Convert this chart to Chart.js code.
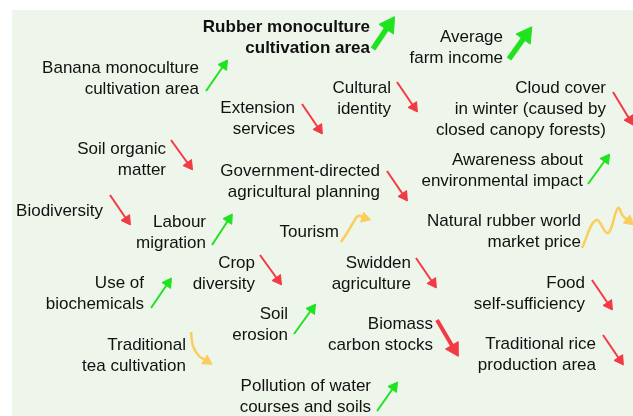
<!DOCTYPE html>
<html>
<head>
<meta charset="utf-8">
<script src="https://cdn.jsdelivr.net/npm/chart.js@4.4.1/dist/chart.umd.min.js"></script>
<style>
  html, body { margin: 0; padding: 0; background: #fff; }
  #wrap { width: 633px; height: 416px; }
</style>
</head>
<body>
<div id="wrap"><canvas id="diagram" width="633" height="416"></canvas></div>
<script>
// concepts of the diagram and how each one changed
var concepts = [
  'Rubber monoculture\ncultivation area',
  'Average\nfarm income',
  'Banana monoculture\ncultivation area',
  'Extension\nservices',
  'Cultural\nidentity',
  'Cloud cover\nin winter (caused by\nclosed canopy forests)',
  'Soil organic\nmatter',
  'Government-directed\nagricultural planning',
  'Biodiversity',
  'Labour\nmigration',
  'Tourism',
  'Awareness about\nenvironmental impact',
  'Natural rubber world\nmarket price',
  'Crop\ndiversity',
  'Swidden\nagriculture',
  'Use of\nbiochemicals',
  'Food\nself-sufficiency',
  'Soil\nerosion',
  'Biomass\ncarbon stocks',
  'Traditional\ntea cultivation',
  'Traditional rice\nproduction area',
  'Pollution of water\ncourses and soils'
];
var trend = ['up', 'up', 'up', 'down', 'down', 'down', 'down', 'down', 'down', 'up', 'mixed',
             'up', 'mixed', 'down', 'down', 'up', 'down', 'up', 'down', 'mixed', 'down', 'up'];
// 3 = strong change, 2 = marked, 1 = normal
var strength = [3, 3, 1, 1, 1, 1, 1, 1, 1, 1, 1, 1, 1, 1, 1, 1, 1, 1, 2, 1, 1, 1];
var driver = 0;

// where each concept sits on the 633 x 416 diagram grid (right edge, first line)
var labelX = [370, 503, 199, 295, 391, 606, 166, 380, 103, 206, 339,
              583, 581, 255, 411, 144, 585, 288, 433, 186, 596, 371];
var labelY = [27, 37, 68, 108, 88, 88, 149, 171, 211, 222, 232,
              160, 221, 263, 263, 283, 283, 314, 324, 345, 344, 386];

// arrow paths: tail ... head
var arrowPaths = [
  [[373, 49], [389, 25]],
  [[509, 59], [526, 35]],
  [[206, 91], [224, 65]],
  [[302, 104], [319, 129]],
  [[397, 82], [414, 107]],
  [[613, 92], [630, 120]],
  [[171, 140], [189, 165]],
  [[387, 171], [404, 196]],
  [[110, 195], [127, 220]],
  [[212, 245], [229, 219]],
  [[341, 242], [347, 233], [353, 223], [358, 216], [365, 218]],
  [[588, 184], [606, 159]],
  [[582, 248], [596, 220], [608, 233], [618, 208], [623, 216], [629, 221]],
  [[260, 255], [278, 280]],
  [[416, 258], [433, 283]],
  [[151, 308], [168, 283]],
  [[592, 280], [609, 305]],
  [[294, 334], [312, 309]],
  [[437, 320], [454, 349]],
  [[191, 332], [193, 346], [199, 356], [207, 361]],
  [[603, 335], [620, 360]],
  [[377, 411], [394, 387]]
];

var trendColors = { up: '#1ee31e', down: '#f23a44', mixed: '#fbcd5a' };
var lineWidths = { 1: 2, 2: 4, 3: 5.5 };
var headSizes = { 1: 6, 2: 8.5, 3: 10 };

var datasets = arrowPaths.map(function (path, i) {
  var n = path.length;
  var a = path[n - 2], b = path[n - 1];
  var rot = Math.atan2(b[0] - a[0], -(b[1] - a[1])) * 180 / Math.PI;
  var col = trendColors[trend[i]];
  return {
    label: concepts[i].replace(/\n/g, ' '),
    data: path.map(function (p) { return { x: p[0], y: p[1] }; }),
    showLine: true,
    borderColor: col,
    backgroundColor: col,
    borderWidth: trend[i] === 'mixed' ? 2.5 : lineWidths[strength[i]],
    tension: n > 2 ? 0.4 : 0,
    pointStyle: 'triangle',
    pointRadius: path.map(function (p, j) { return j === n - 1 ? headSizes[strength[i]] : 0; }),
    pointRotation: path.map(function () { return rot; }),
    pointBorderWidth: 1
  };
});

var backdrop = {
  id: 'backdrop',
  beforeDraw: function (chart) {
    var ctx = chart.ctx, x = chart.scales.x, y = chart.scales.y;
    ctx.save();
    ctx.fillStyle = '#ffffff';
    ctx.fillRect(0, 0, chart.width, chart.height);
    ctx.fillStyle = '#eef5ea';
    var x0 = x.getPixelForValue(12), y0 = y.getPixelForValue(10);
    ctx.fillRect(x0, y0, x.getPixelForValue(633) - x0, y.getPixelForValue(416) - y0);
    ctx.restore();
  }
};

var conceptLabels = {
  id: 'conceptLabels',
  beforeDatasetsDraw: function (chart) {
    var ctx = chart.ctx, x = chart.scales.x, y = chart.scales.y;
    ctx.save();
    ctx.fillStyle = '#111111';
    ctx.textAlign = 'right';
    ctx.textBaseline = 'middle';
    concepts.forEach(function (c, i) {
      ctx.font = (i === driver ? 'bold ' : '') + '17px "Liberation Sans", Arial, sans-serif';
      c.split('\n').forEach(function (line, j) {
        ctx.fillText(line, x.getPixelForValue(labelX[i]), y.getPixelForValue(labelY[i] + j * 21));
      });
    });
    ctx.restore();
  }
};

new Chart(document.getElementById('diagram'), {
  type: 'scatter',
  data: { datasets: datasets },
  options: {
    responsive: false,
    animation: false,
    devicePixelRatio: 1,
    layout: { padding: 0, autoPadding: false },
    scales: {
      x: { type: 'linear', min: 0, max: 633, display: false },
      y: { type: 'linear', min: 0, max: 416, reverse: true, display: false }
    },
    plugins: {
      legend: { display: false },
      tooltip: { enabled: false }
    }
  },
  plugins: [backdrop, conceptLabels]
});
</script>
</body>
</html>
